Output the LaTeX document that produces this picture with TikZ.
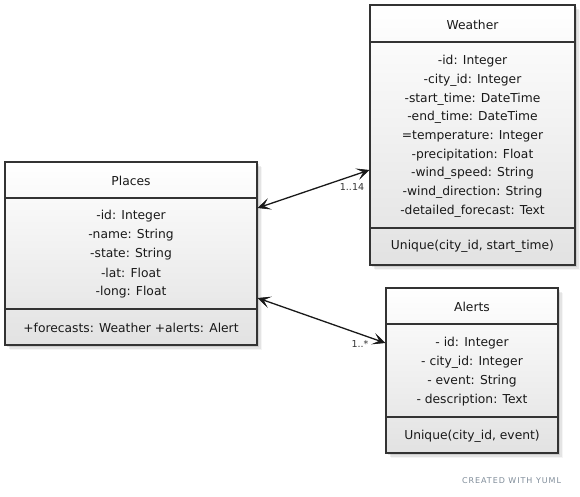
\documentclass[tikz,border=0pt]{standalone}
\usepackage{fontspec}
\setmainfont{DejaVu Sans}
\usetikzlibrary{arrows.meta}
\definecolor{boxline}{HTML}{333333}
\definecolor{boxbot}{HTML}{E2E2E2}
\definecolor{credit}{HTML}{7F8C99}
\tikzset{
  umlbox/.style={draw=boxline, line width=1.1pt, rectangle, inner sep=0pt,
    top color=white, bottom color=boxbot},
  txt/.style={font=\fontsize{12.3}{14}\selectfont, text=black!90, inner sep=0pt},
  mult/.style={font=\fontsize{9.5}{11}\selectfont, text=black!80, inner sep=0pt},
  tipx/.tip={Stealth[length=13pt,width=12pt,inset=6.5pt,line width=0.6pt]},
  assoc/.style={line width=1.3pt, draw=black!90, tipx-tipx},
  divline/.style={draw=boxline, line width=1.1pt}
}
\begin{document}
\begin{tikzpicture}[x=1pt,y=-1pt]
\useasboundingbox (0,0) rectangle (580,496);
% shadows
\foreach \o/\op in {2/0.10,3.5/0.07,5/0.04}{
  \fill[black, opacity=\op] (5+\o,162+\o) rectangle (257+\o,345+\o);
  \fill[black, opacity=\op] (370+\o,5+\o) rectangle (575+\o,265+\o);
  \fill[black, opacity=\op] (386+\o,288+\o) rectangle (558+\o,453+\o);
}
% boxes
\node[umlbox, minimum width=252pt, minimum height=183pt] (places) at (131,253.5) {};
\node[umlbox, minimum width=205pt, minimum height=260pt] (weather) at (472.5,135) {};
\node[umlbox, minimum width=172pt, minimum height=165pt] (alerts) at (472,370.5) {};
% dividers
\draw[divline] (places.west |- 0,198) -- (places.east |- 0,198);
\draw[divline] (places.west |- 0,309) -- (places.east |- 0,309);
\draw[divline] (weather.west |- 0,42) -- (weather.east |- 0,42);
\draw[divline] (weather.west |- 0,228) -- (weather.east |- 0,228);
\draw[divline] (alerts.west |- 0,324) -- (alerts.east |- 0,324);
\draw[divline] (alerts.west |- 0,417) -- (alerts.east |- 0,417);
% Places text
\node[txt] (pt) at (131,181) {Places};
\node[txt] (pa1) at (131,216) {-id: Integer};
\node[txt] (pa2) at (131,235) {-name: String};
\node[txt] (pa3) at (131,254) {-state: String};
\node[txt] (pa4) at (131,273) {-lat: Float};
\node[txt] (pa5) at (131,292) {-long: Float};
\node[txt] (pm) at (131,327.5) {+forecasts: Weather +alerts: Alert};
% Weather text
\node[txt] (wt) at (472.5,24.5) {Weather};
\node[txt] (wa1) at (472.5,61) {-id: Integer};
\node[txt] (wa2) at (472.5,80) {-city\_id: Integer};
\node[txt] (wa3) at (472.5,99) {-start\_time: DateTime};
\node[txt] (wa4) at (472.5,117.5) {-end\_time: DateTime};
\node[txt] (wa5) at (472.5,136) {=temperature: Integer};
\node[txt] (wa6) at (472.5,155) {-precipitation: Float};
\node[txt] (wa7) at (472.5,173.5) {-wind\_speed: String};
\node[txt] (wa8) at (472.5,192) {-wind\_direction: String};
\node[txt] (wa9) at (472.5,211) {-detailed\_forecast: Text};
\node[txt] (wm) at (472.5,246.5) {Unique(city\_id, start\_time)};
% Alerts text
\node[txt] (at) at (472,307) {Alerts};
\node[txt] (aa1) at (472,343) {- id: Integer};
\node[txt] (aa2) at (472,362) {- city\_id: Integer};
\node[txt] (aa3) at (472,381) {- event: String};
\node[txt] (aa4) at (472,400) {- description: Text};
\node[txt] (am) at (472,436.5) {Unique(city\_id, event)};
% associations
\draw[assoc] ([yshift=45.5pt]places.east) -- ([yshift=-35pt]weather.west);
\draw[assoc] ([yshift=-44.5pt]places.east) -- ([yshift=27.5pt]alerts.west);
\node[mult] (m1) at (352,187.5) {1..14};
\node[mult] (m2) at (360,344) {1..*};
% credit
\node[font=\fontsize{8}{10}\selectfont\addfontfeatures{LetterSpace=12}, text=credit, inner sep=0pt] (credit) at (511.5,481) {CREATED WITH YUML};
\end{tikzpicture}
\end{document}
